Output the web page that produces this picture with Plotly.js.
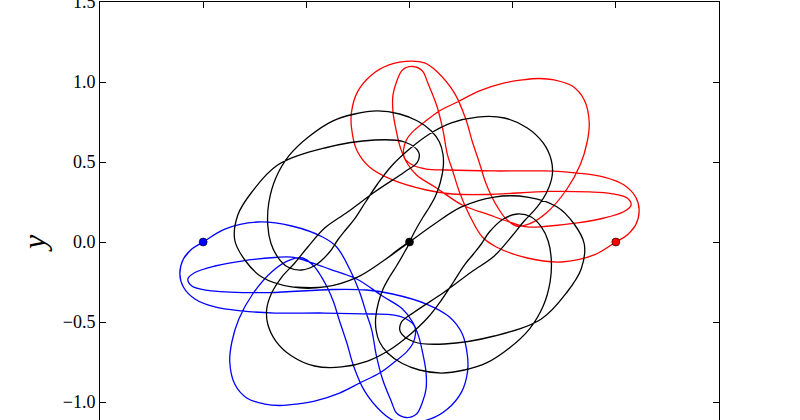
<!DOCTYPE html>
<html>
<head>
<meta charset="utf-8">
<script src="https://cdn.plot.ly/plotly-3.0.1.min.js"></script>
<style>
html,body{margin:0;padding:0;background:#fff;overflow:hidden;}
#chart{width:800px;height:522px;}
</style>
</head>
<body>
<div id="chart"></div>
<script>
// Body 1 (red) trajectory
var redX = [1.0, 1.055, 1.096, 1.113, 1.096, 1.040, 0.943, 0.813, 0.653, 0.411, 0.179, 0.082, 0.015, -0.024, -0.029, -0.015, 0.015, 0.073, 0.145, 0.232, 0.339, 0.460, 0.547, 0.629, 0.702, 0.789, 0.847, 0.871, 0.861, 0.827, 0.760, 0.663, 0.581, 0.518, 0.464, 0.426, 0.397, 0.368, 0.339, 0.305, 0.271, 0.218, 0.135, 0.073, 0.010, -0.102, -0.184, -0.252, -0.281, -0.281, -0.256, -0.194, -0.082, 0.082, 0.208, 0.373, 0.677, 0.871, 0.977, 1.055, 1.074, 1.040, 0.943, 0.813, 0.653, 0.571, 0.498, 0.387, 0.256, 0.131, 0.034, -0.015, -0.044, -0.063, -0.080, -0.080, -0.063, -0.034, 0.015, 0.063, 0.087, 0.131, 0.160, 0.184, 0.208, 0.242, 0.290, 0.353, 0.421, 0.571, 0.735, 0.895, 1.0, 1.055, 1.096];
var redY = [0, 0.044, 0.106, 0.2, 0.281, 0.356, 0.406, 0.431, 0.444, 0.444, 0.45, 0.456, 0.481, 0.525, 0.575, 0.638, 0.688, 0.75, 0.819, 0.875, 0.944, 0.994, 1.013, 1.022, 1.013, 0.975, 0.888, 0.75, 0.625, 0.481, 0.325, 0.181, 0.113, 0.1, 0.15, 0.219, 0.288, 0.375, 0.494, 0.625, 0.775, 0.931, 1.063, 1.119, 1.131, 1.106, 1.044, 0.938, 0.813, 0.713, 0.575, 0.469, 0.388, 0.325, 0.3, 0.297, 0.316, 0.313, 0.303, 0.275, 0.231, 0.191, 0.15, 0.119, 0.097, 0.094, 0.119, 0.169, 0.231, 0.338, 0.419, 0.5, 0.588, 0.688, 0.813, 0.919, 1.0, 1.075, 1.097, 1.069, 1.0, 0.856, 0.713, 0.544, 0.45, 0.313, 0.169, 0.031, -0.031, -0.1, -0.125, -0.081, 0, 0.044, 0.106];

// Body 2 (blue) trajectory
var blueX = [-1.0, -1.055, -1.096, -1.113, -1.096, -1.040, -0.943, -0.813, -0.653, -0.411, -0.179, -0.082, -0.015, 0.024, 0.029, 0.015, -0.015, -0.073, -0.145, -0.232, -0.339, -0.460, -0.547, -0.629, -0.702, -0.789, -0.847, -0.871, -0.861, -0.827, -0.760, -0.663, -0.581, -0.518, -0.464, -0.426, -0.397, -0.368, -0.339, -0.305, -0.271, -0.218, -0.135, -0.073, -0.010, 0.102, 0.184, 0.252, 0.281, 0.281, 0.256, 0.194, 0.082, -0.082, -0.208, -0.373, -0.677, -0.871, -0.977, -1.055, -1.074, -1.040, -0.943, -0.813, -0.653, -0.571, -0.498, -0.387, -0.256, -0.131, -0.034, 0.015, 0.044, 0.063, 0.080, 0.080, 0.063, 0.034, -0.015, -0.063, -0.087, -0.131, -0.160, -0.184, -0.208, -0.242, -0.290, -0.353, -0.421, -0.571, -0.735, -0.895, -1.0, -1.055, -1.096];
var blueY = [0, -0.044, -0.106, -0.2, -0.281, -0.356, -0.406, -0.431, -0.444, -0.444, -0.45, -0.456, -0.481, -0.525, -0.575, -0.638, -0.688, -0.75, -0.819, -0.875, -0.944, -0.994, -1.013, -1.022, -1.013, -0.975, -0.888, -0.75, -0.625, -0.481, -0.325, -0.181, -0.113, -0.1, -0.15, -0.219, -0.288, -0.375, -0.494, -0.625, -0.775, -0.931, -1.063, -1.119, -1.131, -1.106, -1.044, -0.938, -0.813, -0.713, -0.575, -0.469, -0.388, -0.325, -0.3, -0.297, -0.316, -0.313, -0.303, -0.275, -0.231, -0.191, -0.15, -0.119, -0.097, -0.094, -0.119, -0.169, -0.231, -0.338, -0.419, -0.5, -0.588, -0.688, -0.813, -0.919, -1.0, -1.075, -1.097, -1.069, -1.0, -0.856, -0.713, -0.544, -0.45, -0.313, -0.169, -0.031, 0.031, 0.1, 0.125, 0.081, 0, -0.044, -0.106];

// Body 3 (black) trajectory
var blackX = [0, 0.024, 0.063, 0.097, 0.126, 0.150, 0.164, 0.162, 0.145, 0.106, 0.039, -0.048, -0.155, -0.266, -0.373, -0.484, -0.581, -0.648, -0.682, -0.687, -0.672, -0.639, -0.590, -0.523, -0.455, -0.387, -0.348, -0.310, -0.266, -0.213, -0.155, -0.087, 0, 0.097, 0.203, 0.329, 0.460, 0.571, 0.648, 0.687, 0.692, 0.668, 0.619, 0.556, 0.493, 0.411, 0.300, 0.169, 0.024, -0.039, -0.044, 0.024, 0.169, 0.411, 0.639, 0.764, 0.832, 0.847, 0.798, 0.716, 0.571, 0.411, 0.252, 0.121, 0,
  -0.121, -0.252, -0.411, -0.571, -0.716, -0.798, -0.847, -0.832, -0.764, -0.639, -0.411, -0.169, -0.024, 0.044, 0.039, -0.024, -0.169, -0.300, -0.411, -0.493, -0.556, -0.619, -0.668, -0.692, -0.687, -0.648, -0.571, -0.460, -0.329, -0.203, -0.097, 0, 0.087, 0.155, 0.213, 0.266, 0.310, 0.348, 0.387, 0.455, 0.523, 0.590, 0.639, 0.672, 0.687, 0.682, 0.648, 0.581, 0.484, 0.373, 0.266, 0.155, 0.048, -0.039, -0.106, -0.145, -0.162, -0.164, -0.150, -0.126, -0.097, -0.063, -0.024, 0, -0.121, -0.252, -0.411, -0.571];
var blackY = [0, 0.0625, 0.15, 0.219, 0.2875, 0.375, 0.475, 0.55, 0.625, 0.694, 0.756, 0.8, 0.819, 0.8, 0.756, 0.6625, 0.544, 0.4, 0.244, 0.106, -0.006, -0.094, -0.156, -0.175, -0.144, -0.0625, 0.0125, 0.075, 0.144, 0.25, 0.3625, 0.475, 0.581, 0.675, 0.744, 0.781, 0.775, 0.7125, 0.619, 0.5125, 0.419, 0.319, 0.219, 0.131, 0.031, -0.0875, -0.1875, -0.3125, -0.4375, -0.5, -0.5625, -0.625, -0.6375, -0.5875, -0.481, -0.3125, -0.169, -0.0125, 0.1125, 0.219, 0.281, 0.281, 0.219, 0.1125, 0,
  -0.1125, -0.219, -0.281, -0.281, -0.219, -0.1125, 0.0125, 0.169, 0.3125, 0.481, 0.5875, 0.6375, 0.625, 0.5625, 0.5, 0.4375, 0.3125, 0.1875, 0.0875, -0.031, -0.131, -0.219, -0.319, -0.419, -0.5125, -0.619, -0.7125, -0.775, -0.781, -0.744, -0.675, -0.581, -0.475, -0.3625, -0.25, -0.144, -0.075, -0.0125, 0.0625, 0.144, 0.175, 0.156, 0.094, 0.006, -0.106, -0.244, -0.4, -0.544, -0.6625, -0.756, -0.8, -0.819, -0.8, -0.756, -0.694, -0.625, -0.55, -0.475, -0.375, -0.2875, -0.219, -0.15, -0.0625, 0, -0.1125, -0.219, -0.281, -0.281];

// Starting positions
var startX = [1.0, -1.0, 0.0];
var startY = [0.0, 0.0, 0.0];
var startColors = ['#ff0000', '#0000ff', '#000000'];

var xTickVals = [-1.5, -1.0, -0.5, 0.0, 0.5, 1.0, 1.5];
var yTickVals = [-1.0, -0.5, 0.0, 0.5, 1.0, 1.5];

function lineTrace(x, y, color) {
  return {x: x, y: y, type: 'scatter', mode: 'lines',
          line: {color: color, width: 1.3, shape: 'spline', smoothing: 1},
          hoverinfo: 'skip', showlegend: false};
}

var traces = [
  lineTrace(redX, redY, '#ff0000'),
  lineTrace(blueX, blueY, '#0000ff'),
  lineTrace(blackX, blackY, '#000000'),
  {x: startX, y: startY, type: 'scatter', mode: 'markers',
   marker: {color: startColors, size: 8, line: {color: '#000000', width: 0.6}},
   hoverinfo: 'skip', showlegend: false}
];

var axisCommon = {
  range: [-1.5, 1.5], tickformat: '.1f',
  ticks: 'inside', ticklen: 6, tickwidth: 1, tickcolor: '#000',
  showline: true, linecolor: '#000', linewidth: 1, mirror: 'ticks',
  showgrid: false, zeroline: false
};

var layout = {
  width: 800, height: 522,
  margin: {l: 100, r: 81, t: 2, b: 40},
  paper_bgcolor: '#ffffff', plot_bgcolor: '#ffffff',
  showlegend: false,
  font: {family: '"Liberation Serif", "DejaVu Serif", serif', size: 18, color: '#000'},
  xaxis: Object.assign({}, axisCommon, {tickvals: xTickVals, showticklabels: false}),
  yaxis: Object.assign({}, axisCommon, {
    tickvals: yTickVals, ticklabeloverflow: 'allow',
    title: {text: '<i>y</i>', font: {size: 32}, standoff: 7}
  })
};

Plotly.newPlot('chart', traces, layout, {staticPlot: true, displayModeBar: false});
</script>
</body>
</html>
